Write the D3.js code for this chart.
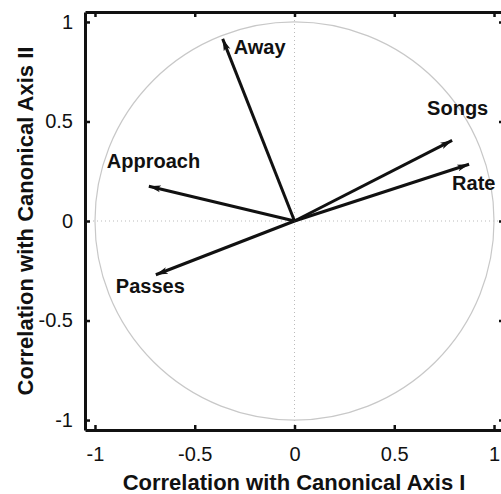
<!DOCTYPE html>
<html>
<head>
<meta charset="utf-8">
<script src="https://cdn.jsdelivr.net/npm/d3@7"></script>
<style>
  body { margin: 0; background: #fff; }
  svg text { font-family: "Liberation Sans", Arial, Helvetica, sans-serif; fill: #111; }
</style>
</head>
<body>
<div id="chart"></div>
<script>
// variables and their correlations with the two canonical axes
var variables = ["Away", "Approach", "Songs", "Rate", "Passes"];
var axisI = [-0.36, -0.73, 0.79, 0.875, -0.695];
var axisII = [0.915, 0.175, 0.405, 0.285, -0.27];
var tickValues = [-1, -0.5, 0, 0.5, 1];

var svgWidth = 501;
var svgHeight = 494;

var svg = d3.select("#chart")
  .append("svg")
  .attr("width", svgWidth)
  .attr("height", svgHeight);

var x = d3.scaleLinear().domain([-1.05, 1.05]).range([85, 504]);
var y = d3.scaleLinear().domain([-1.05, 1.05]).range([430, 12]);

// arrow head
svg.append("defs").append("marker")
  .attr("id", "head")
  .attr("markerUnits", "userSpaceOnUse")
  .attr("viewBox", "0 0 12 8")
  .attr("refX", 12)
  .attr("refY", 4)
  .attr("markerWidth", 12)
  .attr("markerHeight", 8)
  .attr("orient", "auto")
  .append("path")
  .attr("d", "M0,0.5 L12,4 L0,7.5 L3,4 Z")
  .attr("fill", "#111");

// dotted zero lines
svg.append("line")
  .attr("x1", x(0)).attr("x2", x(0))
  .attr("y1", y(1.05)).attr("y2", y(-1.05))
  .attr("stroke", "#bbb").attr("stroke-width", 1)
  .attr("stroke-dasharray", "1,3");
svg.append("line")
  .attr("x1", x(-1.05)).attr("x2", x(1.05))
  .attr("y1", y(0)).attr("y2", y(0))
  .attr("stroke", "#bbb").attr("stroke-width", 1)
  .attr("stroke-dasharray", "1,3");

// unit circle
svg.append("ellipse")
  .attr("cx", x(0)).attr("cy", y(0))
  .attr("rx", x(1) - x(0)).attr("ry", y(0) - y(1))
  .attr("fill", "none")
  .attr("stroke", "#c8c8c8")
  .attr("stroke-width", 1.2);

// axes on all four sides, ticks pointing inward
var fmt = d => String(d);
var bottomAxis = d3.axisBottom(x).tickValues(tickValues).tickSize(-5).tickPadding(17).tickFormat(fmt);
var topAxis = d3.axisTop(x).tickValues(tickValues).tickSize(-5).tickFormat("");
var leftAxis = d3.axisLeft(y).tickValues(tickValues).tickSize(-5).tickPadding(12).tickFormat(fmt);
var rightAxis = d3.axisRight(y).tickValues(tickValues).tickSize(-5).tickFormat("");

function styleAxis(g) {
  g.select(".domain").attr("stroke", "#111").attr("stroke-width", 3);
  g.selectAll(".tick line").attr("stroke", "#111").attr("stroke-width", 2.5);
  g.selectAll(".tick text").attr("font-size", "20px").attr("fill", "#111");
}

svg.append("g").attr("transform", "translate(0," + 430 + ")").call(bottomAxis.tickSizeOuter(0)).call(styleAxis);
svg.append("g").attr("transform", "translate(0," + 12 + ")").call(topAxis.tickSizeOuter(0)).call(styleAxis);
svg.append("g").attr("transform", "translate(85,0)").call(leftAxis.tickSizeOuter(0)).call(styleAxis);
svg.append("g").attr("transform", "translate(504,0)").call(rightAxis.tickSizeOuter(0)).call(styleAxis);

// arrows
var data = variables.map(function(v, i) { return { name: v, x: axisI[i], y: axisII[i] }; });

svg.selectAll(".arrow")
  .data(data)
  .enter()
  .append("line")
  .attr("class", "arrow")
  .attr("x1", x(0))
  .attr("y1", y(0))
  .attr("x2", d => x(d.x))
  .attr("y2", d => y(d.y))
  .attr("stroke", "#111")
  .attr("stroke-width", 3)
  .attr("marker-end", "url(#head)");

// labels (offsets from arrow tips)
var labelOffset = {
  "Away": [11, 15],
  "Approach": [-42, -18],
  "Songs": [-25, -25],
  "Rate": [-17, 26],
  "Passes": [-40, 18]
};

svg.selectAll(".label")
  .data(data)
  .enter()
  .append("text")
  .attr("class", "label")
  .attr("x", d => x(d.x) + labelOffset[d.name][0])
  .attr("y", d => y(d.y) + labelOffset[d.name][1])
  .attr("font-size", "20px")
  .attr("font-weight", "bold")
  .text(d => d.name);

// axis titles
svg.append("text")
  .attr("x", 294)
  .attr("y", 490)
  .attr("text-anchor", "middle")
  .attr("font-size", "22px")
  .attr("font-weight", "bold")
  .text("Correlation with Canonical Axis I");

svg.append("text")
  .attr("transform", "rotate(-90)")
  .attr("x", -221)
  .attr("y", 33)
  .attr("text-anchor", "middle")
  .attr("font-size", "22px")
  .attr("font-weight", "bold")
  .text("Correlation with Canonical Axis II");
</script>
</body>
</html>
